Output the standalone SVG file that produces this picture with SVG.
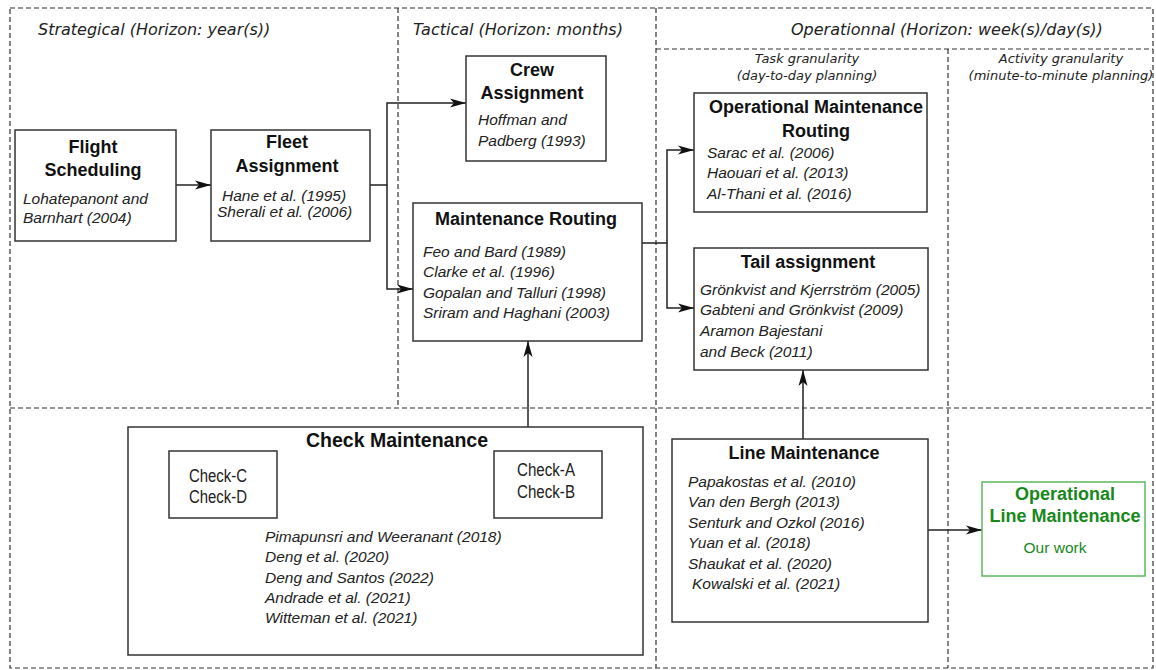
<svg xmlns="http://www.w3.org/2000/svg" width="1156" height="670" viewBox="0 0 1156 670">
<defs>
<marker id="arr" markerUnits="userSpaceOnUse" markerWidth="17" markerHeight="10" refX="16" refY="4.5" orient="auto" viewBox="0 0 17 9">
<path d="M0,0 L16,4.5 L0,9 L4,4.5 Z" fill="#111"/>
</marker>
<style>
.bg{fill:#fff}
.dash{fill:none;stroke:#333;stroke-width:1.2;stroke-dasharray:5 3}
.box{fill:#fff;stroke:#333;stroke-width:1.5}
.gbox{fill:#fff;stroke:#5cb85c;stroke-width:1.5}
.con{fill:none;stroke:#222;stroke-width:1.5}
.hdr{font-family:"DejaVu Sans",Verdana,sans-serif;font-style:italic;font-size:16px;fill:#222}
.sub{font-family:"DejaVu Sans",Verdana,sans-serif;font-style:italic;font-size:13px;fill:#222}
.ttl{font-family:"Liberation Sans",Arial,sans-serif;font-weight:bold;font-size:18px;fill:#111;text-anchor:middle}
.cit{font-family:"Liberation Sans",Arial,sans-serif;font-style:italic;font-size:15.5px;fill:#222}
.chk{font-family:"Liberation Sans Narrow","Liberation Sans",Arial,sans-serif;font-size:18px;fill:#222;text-anchor:middle}
.gttl{font-family:"Liberation Sans",Arial,sans-serif;font-weight:bold;font-size:18px;fill:#17891a;text-anchor:middle}
.gtxt{font-family:"Liberation Sans",Arial,sans-serif;font-size:15.5px;fill:#17891a;text-anchor:middle}
</style>
</defs>
<rect class="bg" x="0" y="0" width="1156" height="670"/>
<g id="frame">
<rect class="dash" x="10" y="8" width="1143" height="660"/>
<line class="dash" x1="398" y1="8" x2="398" y2="408"/>
<line class="dash" x1="656" y1="8" x2="656" y2="668"/>
<line class="dash" x1="656" y1="49" x2="1153" y2="49"/>
<line class="dash" x1="948" y1="49" x2="948" y2="668"/>
<line class="dash" x1="10" y1="408" x2="1153" y2="408"/>
<text class="hdr" x="38" y="35">Strategical (Horizon: year(s))</text>
<text class="hdr" x="413" y="35">Tactical (Horizon: months)</text>
<text class="hdr" x="791" y="35">Operationnal (Horizon: week(s)/day(s))</text>
<text class="sub" x="807" y="63" text-anchor="middle">Task granularity</text>
<text class="sub" x="807" y="80" text-anchor="middle">(day-to-day planning)</text>
<text class="sub" x="1061" y="63" text-anchor="middle">Activity granularity</text>
<text class="sub" x="1061" y="80" text-anchor="middle">(minute-to-minute planning)</text>
</g>
<g id="connectors">
<path class="con" d="M176,185 H211" marker-end="url(#arr)"/>
<path class="con" d="M370,185 H387 V103 H466" marker-end="url(#arr)"/>
<path class="con" d="M387,185 V289 H413" marker-end="url(#arr)"/>
<path class="con" d="M642,243 H667 V150 H694" marker-end="url(#arr)"/>
<path class="con" d="M667,243 V308 H694" marker-end="url(#arr)"/>
<path class="con" d="M528,427 V341" marker-end="url(#arr)"/>
<path class="con" d="M803,439 V370" marker-end="url(#arr)"/>
<path class="con" d="M928,530 H982" marker-end="url(#arr)"/>
</g>
<g id="flight-scheduling">
<rect class="box" x="15" y="130" width="161" height="111"/>
<text class="ttl" x="93" y="153">Flight</text>
<text class="ttl" x="93" y="176">Scheduling</text>
<text class="cit" x="23" y="204">Lohatepanont and</text>
<text class="cit" x="23" y="223">Barnhart (2004)</text>
</g>
<g id="fleet-assignment">
<rect class="box" x="211" y="130" width="159" height="111"/>
<text class="ttl" x="287" y="148">Fleet</text>
<text class="ttl" x="287" y="172">Assignment</text>
<text class="cit" x="222" y="201">Hane et al. (1995)</text>
<text class="cit" x="217" y="217">Sherali et al. (2006)</text>
</g>
<g id="crew-assignment">
<rect class="box" x="466" y="56" width="140" height="105"/>
<text class="ttl" x="532" y="76">Crew</text>
<text class="ttl" x="532" y="99">Assignment</text>
<text class="cit" x="478" y="125">Hoffman and</text>
<text class="cit" x="478" y="146">Padberg (1993)</text>
</g>
<g id="maintenance-routing">
<rect class="box" x="413" y="203" width="229" height="138"/>
<text class="ttl" x="526" y="225">Maintenance Routing</text>
<text class="cit" x="423" y="257">Feo and Bard (1989)</text>
<text class="cit" x="423" y="277">Clarke et al. (1996)</text>
<text class="cit" x="423" y="298">Gopalan and Talluri (1998)</text>
<text class="cit" x="423" y="318">Sriram and Haghani (2003)</text>
</g>
<g id="operational-maintenance-routing">
<rect class="box" x="694" y="93" width="233" height="119"/>
<text class="ttl" x="816" y="113">Operational Maintenance</text>
<text class="ttl" x="816" y="137">Routing</text>
<text class="cit" x="707" y="158">Sarac et al. (2006)</text>
<text class="cit" x="707" y="178">Haouari et al. (2013)</text>
<text class="cit" x="707" y="199">Al-Thani et al. (2016)</text>
</g>
<g id="tail-assignment">
<rect class="box" x="694" y="248" width="234" height="122"/>
<text class="ttl" x="808" y="268">Tail assignment</text>
<text class="cit" x="700" y="295">Grönkvist and Kjerrström (2005)</text>
<text class="cit" x="700" y="315">Gabteni and Grönkvist (2009)</text>
<text class="cit" x="700" y="336">Aramon Bajestani</text>
<text class="cit" x="700" y="357">and Beck (2011)</text>
</g>
<g id="check-maintenance">
<rect class="box" x="128" y="427" width="515" height="228"/>
<text class="ttl" x="397" y="447" style="font-size:19.5px">Check Maintenance</text>
<rect class="box" x="169" y="451" width="108" height="67"/>
<text class="chk" x="218" y="482" textLength="58" lengthAdjust="spacingAndGlyphs">Check-C</text>
<text class="chk" x="218" y="503" textLength="58" lengthAdjust="spacingAndGlyphs">Check-D</text>
<rect class="box" x="494" y="451" width="108" height="67"/>
<text class="chk" x="546" y="476" textLength="58" lengthAdjust="spacingAndGlyphs">Check-A</text>
<text class="chk" x="546" y="498" textLength="58" lengthAdjust="spacingAndGlyphs">Check-B</text>
<text class="cit" x="265" y="542">Pimapunsri and Weeranant (2018)</text>
<text class="cit" x="265" y="562">Deng et al. (2020)</text>
<text class="cit" x="265" y="583">Deng and Santos (2022)</text>
<text class="cit" x="265" y="603">Andrade et al. (2021)</text>
<text class="cit" x="265" y="623">Witteman et al. (2021)</text>
</g>
<g id="line-maintenance">
<rect class="box" x="672" y="439" width="256" height="183"/>
<text class="ttl" x="804" y="459">Line Maintenance</text>
<text class="cit" x="688" y="487">Papakostas et al. (2010)</text>
<text class="cit" x="688" y="507">Van den Bergh (2013)</text>
<text class="cit" x="688" y="528">Senturk and Ozkol (2016)</text>
<text class="cit" x="688" y="548">Yuan et al. (2018)</text>
<text class="cit" x="688" y="569">Shaukat et al. (2020)</text>
<text class="cit" x="692" y="589">Kowalski et al. (2021)</text>
</g>
<g id="operational-line-maintenance">
<rect class="gbox" x="982" y="482" width="163" height="94"/>
<text class="gttl" x="1065" y="500">Operational</text>
<text class="gttl" x="1065" y="522">Line Maintenance</text>
<text class="gtxt" x="1055" y="553">Our work</text>
</g>
</svg>
